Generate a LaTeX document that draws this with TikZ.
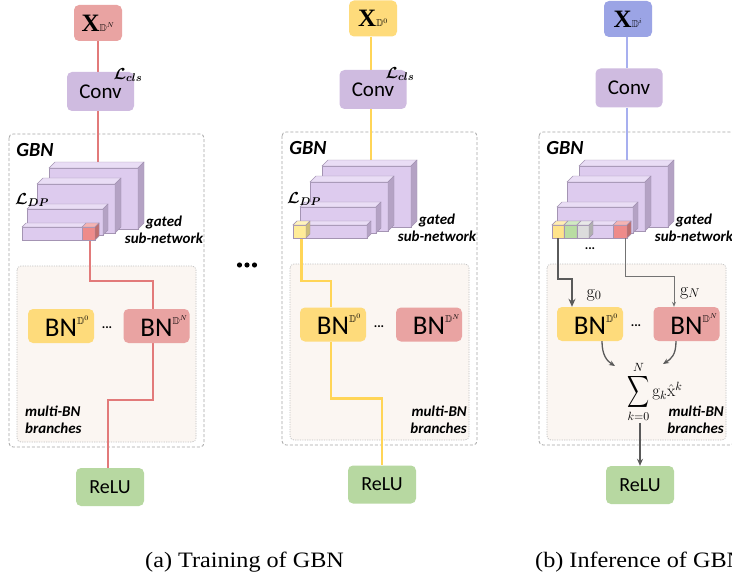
\RequirePackage{fix-cm}
\documentclass[tikz,border=0pt]{standalone}
\usepackage{amsmath,amssymb}
\usepackage{graphicx}
\usepackage{fontspec}
\newfontfamily\carlito{Carlito}
\newfontfamily\serifcap{Liberation Serif}
\usetikzlibrary{arrows.meta}

\definecolor{pinkbox}{HTML}{E9A3A2}
\definecolor{yellowbox}{HTML}{FEDB7B}
\definecolor{bluebox}{HTML}{9BA4E5}
\definecolor{convfill}{HTML}{CFBBE0}
\definecolor{relufill}{HTML}{B7D8A1}
\definecolor{blkfront}{HTML}{DDCBEE}
\definecolor{blktop}{HTML}{E9DDF5}
\definecolor{blkside}{HTML}{B4A2C4}
\definecolor{blkedge}{HTML}{A494B3}
\definecolor{redpath}{HTML}{E27A7A}
\definecolor{yellowpath}{HTML}{FFD557}
\definecolor{bluepath}{HTML}{A7AFEF}
\definecolor{cubered}{HTML}{EE8B8A}
\definecolor{cubeyellow}{HTML}{FFEC98}
\definecolor{cubeyellowb}{HTML}{FFE38A}
\definecolor{cubegreen}{HTML}{B9DDA2}
\definecolor{cubegray}{HTML}{DCDCDC}
\definecolor{framegray}{HTML}{A6A6A6}
\definecolor{bnpanel}{HTML}{FBF6F2}
\definecolor{arrowgray}{HTML}{5A5A5A}

\pgfdeclarelayer{frames}
\pgfdeclarelayer{lines}
\pgfsetlayers{frames,lines,main}

\tikzset{
  gbnframe/.style={draw=framegray, dash pattern=on 3pt off 2pt, line width=0.8pt, rounded corners=4pt},
  bnframe/.style={draw=framegray!70, fill=bnpanel, dash pattern=on 1.2pt off 1.2pt, line width=0.7pt, rounded corners=4pt},
  blockedge/.style={draw=blkedge, line width=0.4pt},
  rbox/.style={rectangle, rounded corners=5pt, inner sep=0pt},
  xbox/.style={rbox, minimum width=48pt, minimum height=36pt, font=\serifcap\bfseries\fontsize{25}{25}\selectfont},
  convbox/.style={rbox, fill=convfill, minimum width=67pt, minimum height=39pt, font=\carlito\fontsize{21}{21}\selectfont},
  bnbox/.style={rbox, minimum width=66pt, minimum height=34pt, font=\carlito\fontsize{27}{27}\selectfont},
  relubox/.style={rbox, fill=relufill, minimum width=68pt, minimum height=38pt, font=\carlito\fontsize{20}{20}\selectfont},
  flowline/.style={line width=2.5pt},
  biglabel/.style={font=\carlito\bfseries\itshape\fontsize{15}{17}\selectfont, inner sep=0pt},
  gbntitle/.style={font=\carlito\bfseries\itshape\fontsize{20}{20}\selectfont, inner sep=0pt},
  losslabel/.style={font=\fontsize{16}{16}\selectfont, inner sep=0pt},
  mathlabel/.style={font=\fontsize{18}{18}\selectfont, inner sep=0pt},
  capt/.style={font=\serifcap\fontsize{22}{22}\selectfont, inner sep=0pt, anchor=base west},
  smalldots/.style={font=\carlito\bfseries\fontsize{13}{13}\selectfont, inner sep=0pt},
  gatearrow/.style={-{Stealth[length=8pt,width=7pt]}},
  sumarrow/.style={draw=arrowgray, line width=1.3pt, -{Stealth[length=6pt,width=5pt]}},
}

% superscript domain tag after a box label
\newcommand\dom[1]{{\fontsize{10}{10}\selectfont$\mathbb{D}^{#1}$}}
\newcommand\bnlabel[1]{BN\rlap{\raisebox{12pt}{\dom{#1}}}}
% tall, narrow summation sign
\newcommand\tallsum{\mathop{\vcenter{\hbox{\scalebox{0.9}[1.3]{$\displaystyle\sum$}}}}\limits}

% cuboid: x1 y1 x2 y2 depth front top side
\newcommand\cuboid[8]{%
  \filldraw[blockedge, fill=#6] (#1,#2) rectangle (#3,#4);
  \filldraw[blockedge, fill=#7] (#1,#2) -- (#1+#5,#2-#5) -- (#3+#5,#2-#5) -- (#3,#2) -- cycle;
  \filldraw[blockedge, fill=#8] (#3,#2) -- (#3+#5,#2-#5) -- (#3+#5,#4-#5) -- (#3,#4) -- cycle;}
\newcommand\plaincube[4]{\cuboid{#1}{227}{#2}{240}{4}{#3}{#3!65!white}{#4}}

% dashed GBN frame with its inner multi-BN panel
\newcommand\gbnboxes[1]{%
  \begin{pgfonlayer}{frames}
  \draw[gbnframe] (9,134) rectangle (204,447);
  \draw[bnframe] (17,266) rectangle (196,442);
  \end{pgfonlayer}
  \node[gbntitle] (#1-title) at (35,150) {GBN};
  \node[biglabel, align=center] (#1-gated) at (164,229.5) {gated\\sub-network};}

% stacked feature blocks of the gated sub-network
\newcommand\gbnblocks[2]{%
  \cuboid{49}{168}{138}{229}{6}{blkfront}{blktop}{blkside}
  \cuboid{37}{184}{115}{233}{6}{blkfront}{blktop}{blkside}
  \cuboid{27}{209}{103}{235}{5}{blkfront}{blktop}{blkside}
  \cuboid{#1}{227}{#2}{240}{4}{blkfront}{blktop}{blkside}}

\begin{document}
\begin{tikzpicture}[x=1pt, y=-1pt]
\begin{pgfonlayer}{frames}
\fill[white] (0,0) rectangle (732,578);
\end{pgfonlayer}
\useasboundingbox (0,0) rectangle (732,578);
\clip (0,0) rectangle (732,578);

% ---------------- (a) training ----------------
\gbnboxes{a}
\gbnblocks{22}{95}
\plaincube{82}{95}{cubered}{cubered!80!black}
\node[xbox, fill=pinkbox] (a-x) at (98,23) {X\dom{N}};
\node[convbox] (a-conv) at (100.5,91.5) {Conv};
\node[losslabel] (a-lcls) at (128,75) {$\boldsymbol{\mathcal{L}_{cls}}$};
\node[losslabel] (a-ldp) at (32,200) {$\boldsymbol{\mathcal{L}_{DP}}$};
\node[bnbox, fill=yellowbox] (a-bn0) at (61,326) {\bnlabel{0}};
\node[bnbox, fill=pinkbox] (a-bnN) at (156.5,326) {\bnlabel{N}};
\node[smalldots] (a-dots) at (107,328) {...};
\node[relubox] (a-relu) at (110,487) {ReLU};
\node[biglabel, align=left, anchor=west] (a-multi) at (25,420) {multi-BN\\branches};
\coordinate (a-top) at (98,165);
\coordinate (a-gate) at (90,240);
\begin{pgfonlayer}{lines}
\draw[flowline, redpath] (a-x.south) -- (a-x.south |- a-conv.north);
\draw[flowline, redpath] (a-x.south |- a-conv.south) -- (a-top);
\draw[flowline, redpath] (a-gate) -- ++(0,41) -| ([xshift=-3.5pt]a-bnN.north);
\draw[flowline, redpath] ([xshift=-3.5pt]a-bnN.south) -- ++(0,57) -| ([xshift=-2pt]a-relu.north);
\end{pgfonlayer}

% gap between the two training views
\fill (239.5,265) circle (2.6) (247,265) circle (2.6) (254.5,265) circle (2.6);

% ---------------- (a) training, second domain ----------------
\begin{scope}[xshift=273pt, yshift=2pt]
\gbnboxes{b}
\gbnblocks{20}{94}
\plaincube{20}{33}{cubeyellow}{cubeyellow!80!black}
\end{scope}
\node[xbox, fill=yellowbox] (b-x) at (373,18.5) {X\dom{0}};
\node[convbox] (b-conv) at (373,89.5) {Conv};
\node[losslabel] (b-lcls) at (400,74) {$\boldsymbol{\mathcal{L}_{cls}}$};
\node[losslabel] (b-ldp) at (304,199) {$\boldsymbol{\mathcal{L}_{DP}}$};
\node[bnbox, fill=yellowbox] (b-bn0) at (333,324.5) {\bnlabel{0}};
\node[bnbox, fill=pinkbox] (b-bnN) at (429,324.5) {\bnlabel{N}};
\node[smalldots] (b-dots) at (379,327) {...};
\node[relubox] (b-relu) at (382,484.5) {ReLU};
\node[biglabel, align=right, anchor=east] (b-multi) at (467,420) {multi-BN\\branches};
\coordinate (b-top) at (371,164);
\coordinate (b-gate) at (301.5,238);
\begin{pgfonlayer}{lines}
\draw[flowline, yellowpath] ([xshift=-2pt]b-x.south) -- ([xshift=-2pt]b-conv.north);
\draw[flowline, yellowpath] ([xshift=-2pt]b-conv.south) -- (b-top);
\draw[flowline, yellowpath] (b-gate) -- ++(0,43) -| ([xshift=-2pt]b-bn0.north);
\draw[flowline, yellowpath] ([xshift=-2pt]b-bn0.south) -- ++(0,57) -| (b-relu.north);
\end{pgfonlayer}

% ---------------- (b) inference ----------------
\begin{scope}[xshift=530pt, yshift=2pt]
\gbnboxes{c}
\gbnblocks{22}{97}
\plaincube{22}{34}{cubeyellowb}{cubeyellowb!80!black}
\plaincube{34}{47}{cubegreen}{cubegreen!80!black}
\plaincube{47}{59}{cubegray}{cubegray!80!black}
\plaincube{83}{97}{cubered}{cubered!80!black}
\end{scope}
\node[xbox, fill=bluebox] (c-x) at (628,19) {X\dom{i}};
\node[convbox] (c-conv) at (629,88) {Conv};
\node[smalldots] (c-dots0) at (590,249) {...};
\node[mathlabel] (c-g0) at (594,295) {$\mathrm{g}_0$};
\node[mathlabel] (c-gN) at (690,293) {$\mathrm{g}_N$};
\node[bnbox, fill=yellowbox] (c-bn0) at (590,324) {\bnlabel{0}};
\node[bnbox, fill=pinkbox] (c-bnN) at (686.5,324) {\bnlabel{N}};
\node[smalldots] (c-dots) at (636,326) {...};
\node[font=\fontsize{17}{17}\selectfont, inner sep=0pt] (c-sum) at (655,392) {$\tallsum_{k=0}^{N}\mathrm{g}_k\hat{\mathrm{x}}^k$};
\node[relubox] (c-relu) at (640,485) {ReLU};
\node[biglabel, align=right, anchor=east] (c-multi) at (724,420) {multi-BN\\branches};
\coordinate (c-top) at (627,163);
\coordinate (c-gate0) at (558,238);
\coordinate (c-gateN) at (625,238);
\coordinate (c-inL) at (615,366);
\coordinate (c-inR) at (663,364);
\begin{pgfonlayer}{lines}
\draw[flowline, bluepath] ([xshift=-1pt]c-x.south) -- ([xshift=-2pt]c-conv.north);
\draw[flowline, bluepath] ([xshift=-2pt]c-conv.south) -- (c-top);
\end{pgfonlayer}
\draw[arrowgray, line width=2.5pt, gatearrow] (c-gate0) -- ++(0,41) -| ([xshift=-18pt]c-bn0.north);
\draw[arrowgray!85, line width=0.9pt, -{Stealth[length=5pt,width=4pt]}] (c-gateN) -- ++(0,38) -| ([xshift=-12.5pt]c-bnN.north);
\draw[sumarrow] ([xshift=12pt]c-bn0.south) .. controls +(0,14) and +(-8,-5) .. (c-inL);
\draw[sumarrow] ([xshift=-10.5pt]c-bnN.south) .. controls +(0,14) and +(8,-5) .. (c-inR);
\draw[arrowgray, line width=1.8pt, -{Stealth[length=7pt,width=6pt]}] (c-sum.south -| c-relu.north) -- (c-relu.north);

% ---------------- captions ----------------
\node[capt] (cap-a) at (145,567) {\scalebox{1.1}[1]{(a)~Training of GBN}};
\node[capt] (cap-b) at (535,567) {\scalebox{1.1}[1]{(b)~Inference of GBN}};
\end{tikzpicture}
\end{document}
